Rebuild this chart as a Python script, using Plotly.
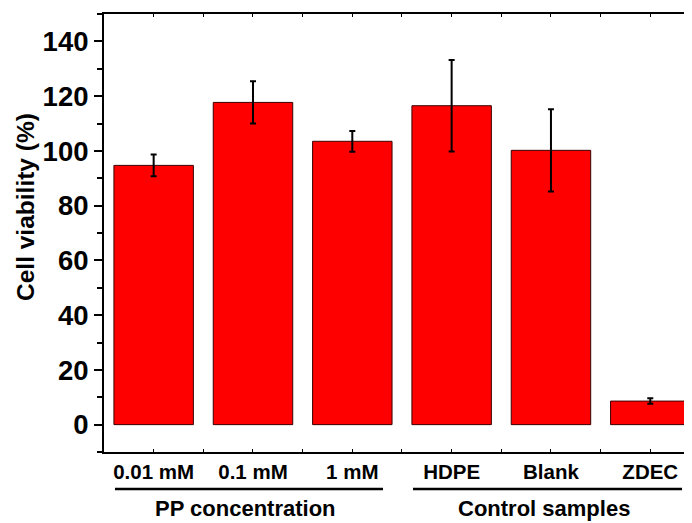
import plotly.graph_objects as go

categories = ["0.01 mM", "0.1 mM", "1 mM", "HDPE", "Blank", "ZDEC"]
viability = [94.7, 117.7, 103.5, 116.5, 100.2, 8.6]
errors = [4.0, 7.7, 3.8, 16.7, 15.0, 1.0]
groups = ["PP concentration", "Control samples"]
y_ticks = [0, 20, 40, 60, 80, 100, 120, 140]
y_title = "Cell viability (%)"

xpos = list(range(1, len(categories) + 1))
FONT = "Liberation Sans, Arial, sans-serif"

fig = go.Figure()
fig.add_trace(go.Bar(
    x=xpos, y=viability, width=0.8,
    marker=dict(color="#FF0000", line=dict(color="#3a0000", width=1)),
    error_y=dict(type="data", array=errors, visible=True, color="black",
                 thickness=2, width=3),
))

# page body has an 8px margin at left/top; figure sits at (8, 8)
OFF = 8
W, H = 692 - OFF, 523 - OFF
# plot area in page pixels
PX0, PX1, PY0, PY1 = 104, 692, 14, 452
L, T = PX0 - OFF, PY0 - OFF
R = (OFF + W) - PX1
B = (OFF + H) - PY1
pw = PX1 - PX0
ph = PY1 - PY0

def px2paper_x(px):
    return (px - PX0) / pw

def px2paper_y(py):
    return (PY1 - py) / ph

shapes = []
annotations = []
group_spans = [(115, 383), (413, 682)]
for (x0, x1), g in zip(group_spans, groups):
    shapes.append(dict(type="line", xref="paper", yref="paper",
                       x0=px2paper_x(x0), x1=px2paper_x(x1),
                       y0=px2paper_y(489), y1=px2paper_y(489),
                       line=dict(color="black", width=2.5)))
    annotations.append(dict(xref="paper", yref="paper",
                            x=px2paper_x((x0 + x1) / 2 - 4), y=px2paper_y(508),
                            text=g, showarrow=False, xanchor="center", yanchor="middle",
                            font=dict(family=FONT, size=22, color="black", weight="bold")))

annotations.append(dict(xref="paper", yref="paper",
                        x=px2paper_x(26), y=px2paper_y(207), textangle=-90,
                        text=y_title, showarrow=False, xanchor="center", yanchor="middle",
                        font=dict(family=FONT, size=24.5, color="black", weight="bold")))

fig.update_layout(
    width=W, height=H,
    margin=dict(l=L, r=R, t=T, b=B, pad=0),
    plot_bgcolor="white", paper_bgcolor="white",
    showlegend=False,
    shapes=shapes, annotations=annotations,
    xaxis=dict(
        range=[0.5, 6.42], tickvals=xpos, ticktext=categories,
        showline=True, linecolor="black", linewidth=2, mirror="allticks",
        ticks="inside", ticklen=3, tickwidth=1, tickcolor="black",
        minor=dict(tickvals=[0.5 + i for i in range(7)], ticks="inside",
                   ticklen=3, tickwidth=1, tickcolor="black"),
        showgrid=False, zeroline=False,
        tickfont=dict(family=FONT, size=20.5, color="black", weight="bold"),
        ticklabelstandoff=0,
    ),
    yaxis=dict(
        range=[-10, 150], tickvals=y_ticks,
        showline=True, linecolor="black", linewidth=2, mirror=False,
        ticks="outside", ticklen=8, tickwidth=2, tickcolor="black",
        minor=dict(dtick=20, tick0=10, ticks="outside", ticklen=5,
                   tickwidth=2, tickcolor="black", showgrid=False),
        showgrid=False, zeroline=False,
        tickfont=dict(family=FONT, size=27.5, color="black", weight="bold"),
    ),
)

fig.write_html("out.html")
